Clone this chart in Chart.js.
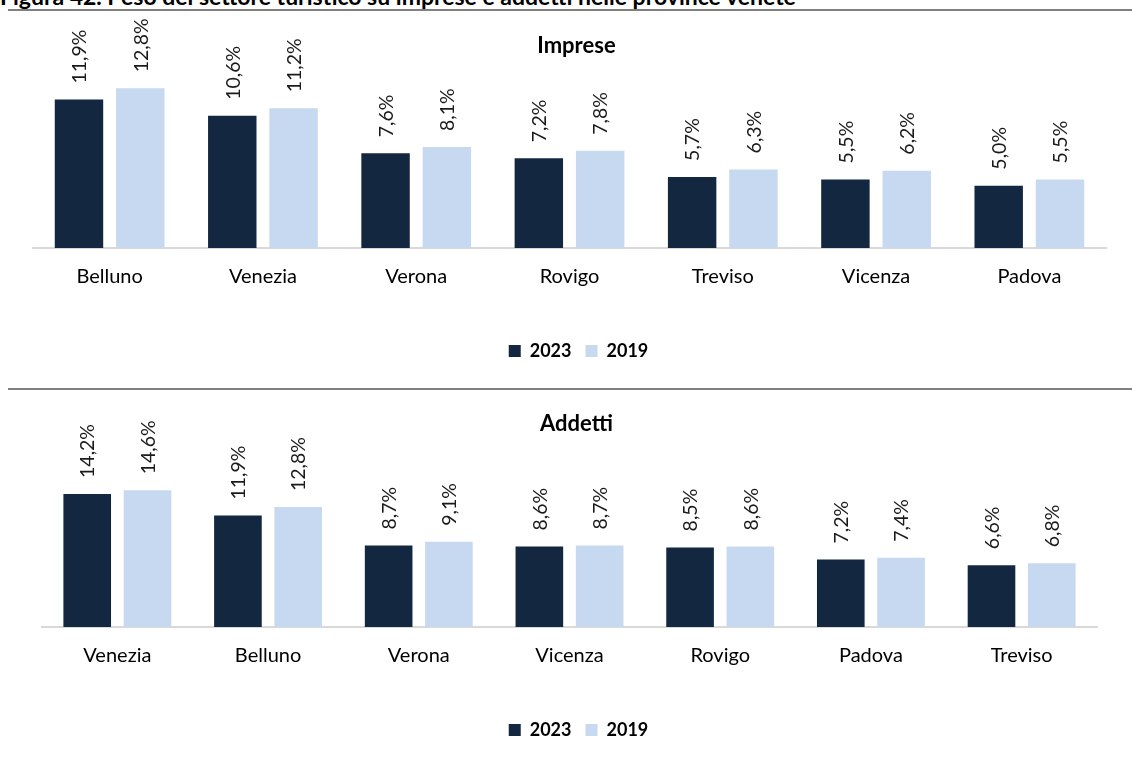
<!DOCTYPE html>
<html><head><meta charset="utf-8">
<script src="https://cdn.jsdelivr.net/npm/chart.js@4.4.1/dist/chart.umd.min.js"></script>
<style>
html,body{margin:0;padding:0;background:#fff;width:1132px;height:760px;overflow:hidden;position:relative;font-family:Lato,sans-serif}
#hdr{position:absolute;left:0;top:-15px;font:bold 23px/23px Lato,sans-serif;color:#000;white-space:nowrap}
.rule{position:absolute;left:8px;width:1124px;height:2px;background:#808080}
.box{position:absolute;left:0;width:1132px;height:376px}
</style></head><body>
<div id="hdr">Figura 42. Peso del settore turistico su imprese e addetti nelle province venete</div>
<div class="rule" style="top:9px"></div>
<div class="box" style="top:12px"><canvas id="c1" width="1132" height="376"></canvas></div>
<div class="rule" style="top:388px"></div>
<div class="box" style="top:391px"><canvas id="c2" width="1132" height="376"></canvas></div>
<script>
const seriesLabels = ['2023', '2019'];
const seriesColors = ['#132740', '#C6D9F0'];

const impreseTitle = 'Imprese';
const impreseCategories = ['Belluno', 'Venezia', 'Verona', 'Rovigo', 'Treviso', 'Vicenza', 'Padova'];
const impreseValues2023 = [11.9, 10.6, 7.6, 7.2, 5.7, 5.5, 5.0];
const impreseValues2019 = [12.8, 11.2, 8.1, 7.8, 6.3, 6.2, 5.5];

const addettiTitle = 'Addetti';
const addettiCategories = ['Venezia', 'Belluno', 'Verona', 'Vicenza', 'Rovigo', 'Padova', 'Treviso'];
const addettiValues2023 = [14.2, 11.9, 8.7, 8.6, 8.5, 7.2, 6.6];
const addettiValues2019 = [14.6, 12.8, 9.1, 8.7, 8.6, 7.4, 6.8];

const FONT = 'Lato, "Open Sans", sans-serif';

const valueLabels = {
  id: 'valueLabels',
  afterDatasetsDraw(chart) {
    const ctx = chart.ctx;
    ctx.save();
    ctx.font = '19.5px ' + FONT;
    ctx.fillStyle = '#1a1a1a';
    ctx.textAlign = 'left';
    ctx.textBaseline = 'middle';
    chart.data.datasets.forEach((ds, di) => {
      const meta = chart.getDatasetMeta(di);
      meta.data.forEach((el, i) => {
        const txt = ds.data[i].toFixed(1).replace('.', ',') + '%';
        ctx.save();
        ctx.translate(el.x + 1, el.y - 16);
        ctx.rotate(-Math.PI / 2);
        ctx.fillText(txt, 0, 0);
        ctx.restore();
      });
    });
    ctx.restore();
  }
};

// Excel centres title and legend on the whole chart object, a little right of the plot area
const shiftBoxes = {
  id: 'shiftBoxes',
  afterLayout(chart, args, opts) {
    if (chart.titleBlock) { chart.titleBlock.left += opts.title; chart.titleBlock.right += opts.title; }
    if (chart.legend) { chart.legend.left += opts.legend; chart.legend.right += opts.legend; }
  }
};

function makeChart(id, title, cats, v2023, v2019, yMax, pad) {
  return new Chart(document.getElementById(id), {
    type: 'bar',
    data: {
      labels: cats,
      datasets: [
        { label: seriesLabels[0], data: v2023, backgroundColor: seriesColors[0] },
        { label: seriesLabels[1], data: v2019, backgroundColor: seriesColors[1] }
      ]
    },
    options: {
      responsive: false,
      animation: false,
      datasets: { bar: { categoryPercentage: 0.8, barPercentage: 0.79 } },
      layout: { padding: { left: pad.left, right: pad.right, top: 0, bottom: pad.bottom } },
      scales: {
        x: {
          grid: { display: false, drawTicks: false },
          border: { display: true, color: '#d9d9d9', width: 2 },
          ticks: { color: '#000', font: { family: FONT, size: 20 }, padding: 17 },
          afterFit(scale) { scale.height = 80; }
        },
        y: { display: false, min: 0, max: yMax }
      },
      plugins: {
        title: {
          display: true, text: title, color: '#000',
          font: { family: FONT, size: 22, weight: 'bold' },
          padding: { top: pad.titleTop, bottom: pad.titleBottom }
        },
        legend: {
          position: 'bottom',
          labels: {
            color: '#000', boxWidth: 12, boxHeight: 12, padding: 14,
            font: { family: FONT, size: 18, weight: 'bold' }
          }
        },
        tooltip: { enabled: false },
        shiftBoxes: { title: 7, legend: 9 }
      }
    },
    plugins: [valueLabels, shiftBoxes]
  });
}

function draw() {
  makeChart('c1', impreseTitle, impreseCategories, impreseValues2023, impreseValues2019, 14,
    { left: 33, right: 26, bottom: 18, titleTop: 21, titleBottom: 14 });
  makeChart('c2', addettiTitle, addettiCategories, addettiValues2023, addettiValues2019, 18,
    { left: 42, right: 35, bottom: 18, titleTop: 20, titleBottom: 21 });
}
Promise.all([
  document.fonts.load('19px Lato'),
  document.fonts.load('bold 19px Lato')
]).then(draw, draw);
</script>
</body></html>
